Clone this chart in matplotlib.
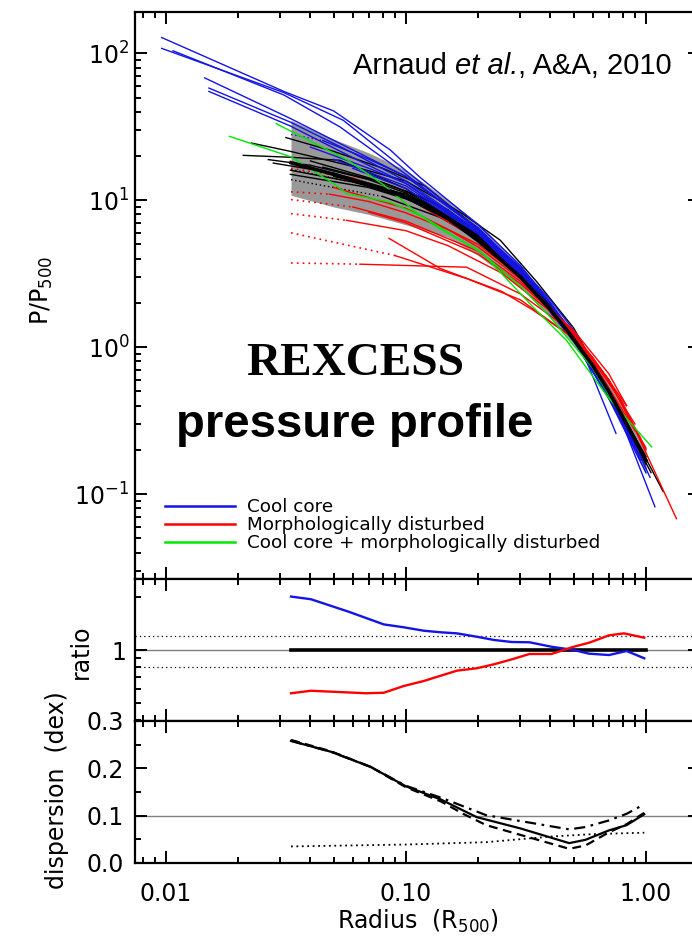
import numpy as np
import matplotlib
matplotlib.use("Agg")
import matplotlib.pyplot as plt
from matplotlib.ticker import LogLocator, NullFormatter, MultipleLocator, FixedLocator, FixedFormatter

# ---------------- data ----------------
# Cool-core profiles (blue): radius in R500, P/P500
cc_r = [
    [0.0096, 0.031, 0.05, 0.086, 0.114, 0.2, 0.3, 0.4, 0.5, 0.6, 0.8, 1.04],
    [0.0096, 0.031, 0.0548, 0.0885, 0.173, 0.3, 0.4, 0.5, 0.6, 0.8, 1.09],
    [0.0107, 0.031, 0.053, 0.1, 0.2, 0.3, 0.4, 0.55, 0.75],
    [0.0145, 0.033, 0.06, 0.1, 0.2, 0.3, 0.4, 0.5, 0.7, 0.95],
    [0.0151, 0.033, 0.06, 0.1, 0.2, 0.3, 0.4, 0.5, 0.7, 0.95],
    [0.0151, 0.033, 0.06, 0.1, 0.2, 0.3, 0.5, 0.7, 1.0],
    [0.045, 0.07, 0.1, 0.2, 0.3, 0.5, 0.7, 0.9],
    [0.04, 0.07, 0.1, 0.2, 0.3, 0.5, 0.7, 0.95],
    [0.05, 0.1, 0.2, 0.3, 0.5, 0.8, 1.0],
    [0.06, 0.1, 0.2, 0.3, 0.5, 0.7, 0.85],
]
cc_p = [
    [128, 55, 40.5, 22, 14.4, 6.8, 3.6, 2.0, 1.2, 0.75, 0.33, 0.13],
    [108, 54, 35, 18.7, 7.7, 3.5, 2.09, 1.3, 0.8, 0.3, 0.082],
    [104, 52, 31.6, 15, 6.3, 3.2, 1.8, 0.9, 0.259],
    [68, 36, 22, 14.5, 6.5, 3.4, 2.0, 1.2, 0.48, 0.18],
    [58, 34, 21, 13.5, 6.2, 3.3, 1.95, 1.15, 0.46, 0.17],
    [55, 32, 19.5, 13, 6.0, 3.2, 1.12, 0.45, 0.14],
    [25.5, 19, 14.5, 6.4, 3.3, 1.15, 0.46, 0.21],
    [23, 16.5, 13, 6.2, 3.2, 1.12, 0.45, 0.18],
    [19, 12.5, 6.0, 3.1, 1.1, 0.33, 0.15],
    [16.5, 12, 5.9, 3.1, 1.1, 0.47, 0.27],
]
cc_dot_r = [[0.0332, 0.045]]
cc_dot_p = [[28, 25.5]]

# Morphologically disturbed profiles (red)
dist_r = [
    [0.048, 0.07, 0.1, 0.15, 0.2, 0.3, 0.4, 0.5, 0.6, 0.83],
    [0.06, 0.1, 0.2, 0.3, 0.5, 0.7, 1.0],
    [0.0565, 0.1, 0.15, 0.25, 0.4, 0.6, 0.9],
    [0.09, 0.179, 0.3, 0.5, 0.7, 1.0],
    [0.0643, 0.179, 0.3, 0.5, 0.8, 1.34],
    [0.06, 0.1, 0.2, 0.3, 0.4, 0.6, 0.9],
    [0.05, 0.1, 0.2, 0.3, 0.5, 0.7, 0.85],
    [0.07, 0.1, 0.2, 0.3, 0.5, 0.7, 0.83],
    [0.085, 0.139, 0.25, 0.338, 0.5, 0.7, 0.95],
]
dist_p = [
    [11.0, 9.8, 8.2, 6.3, 4.8, 2.9, 1.8, 1.2, 0.85, 0.40],
    [9.0, 7.2, 4.5, 2.8, 1.25, 0.6, 0.205],
    [7.3, 6.2, 4.9, 3.2, 1.75, 0.85, 0.3],
    [4.2, 2.93, 2.1, 1.15, 0.6, 0.2],
    [3.67, 3.5, 2.3, 1.25, 0.42, 0.068],
    [14.2, 10.5, 5.4, 3.0, 1.85, 0.8, 0.27],
    [12.2, 8.8, 5.0, 3.0, 1.25, 0.6, 0.33],
    [8.3, 7.0, 4.3, 2.7, 1.3, 0.66, 0.40],
    [5.5, 3.43, 2.4, 1.79, 1.15, 0.6, 0.24],
]
dist_dot_r = [
    [0.0332, 0.048], [0.0332, 0.06], [0.0332, 0.0565],
    [0.0332, 0.09], [0.0332, 0.0643], [0.0332, 0.06],
]
dist_dot_p = [
    [11.4, 11.0], [10.1, 9.0], [8.1, 7.3],
    [6.0, 4.2], [3.74, 3.67], [16.5, 14.2],
]

# Cool core + disturbed (green)
ccd_r = [
    [0.0288, 0.0446, 0.0573, 0.0802, 0.111, 0.134, 0.2, 0.3, 0.398, 0.6, 0.8],
    [0.0184, 0.0333, 0.0498, 0.0566, 0.0858, 0.118, 0.21, 0.338, 0.467, 0.7, 1.055],
]
ccd_p = [
    [33.2, 23, 18.7, 12.8, 8.2, 6.6, 4.6, 2.6, 1.61, 0.72, 0.33],
    [27.2, 19.7, 13, 11.1, 9.7, 7.7, 4.3, 1.88, 1.11, 0.45, 0.21],
]

# Other clusters (black)
oth_r = [
    [0.021, 0.033, 0.053, 0.1, 0.2, 0.3, 0.5, 0.7, 1.0],
    [0.0227, 0.033, 0.06, 0.1, 0.17, 0.247, 0.35, 0.5, 0.7, 0.95],
    [0.0316, 0.05, 0.08, 0.12, 0.2, 0.3, 0.45, 0.65, 0.9],
    [0.0267, 0.04, 0.07, 0.1, 0.2, 0.3, 0.5, 0.8, 1.18],
    [0.028, 0.05, 0.08, 0.12, 0.2, 0.4, 0.6, 0.9],
    [0.033, 0.06, 0.1, 0.2, 0.3, 0.5, 0.7, 1.0],
    [0.033, 0.07, 0.1, 0.15, 0.25, 0.4, 0.6, 0.85],
    [0.04, 0.07, 0.1, 0.2, 0.3, 0.5, 0.75, 1.05],
    [0.045, 0.08, 0.12, 0.2, 0.3, 0.45, 0.65, 0.9],
    [0.05, 0.08, 0.13, 0.22, 0.35, 0.55, 0.8, 1.0],
    [0.06, 0.1, 0.18, 0.3, 0.45, 0.65, 0.9],
    [0.07, 0.12, 0.2, 0.35, 0.5, 0.75, 1.0],
    [0.08, 0.15, 0.25, 0.4, 0.6, 0.9],
    [0.1, 0.15, 0.3, 0.5, 0.7, 1.0],
]
oth_p = [
    [20.2, 19.6, 18.7, 12.0, 5.6, 3.1, 1.15, 0.48, 0.17],
    [24.5, 21.5, 17, 13.5, 8.2, 5.35, 2.8, 1.35, 0.5, 0.19],
    [26.7, 21.5, 16.5, 12.5, 6.4, 3.4, 1.5, 0.62, 0.24],
    [18.9, 17.3, 13.8, 11.2, 5.7, 3.1, 1.15, 0.35, 0.104],
    [17.9, 15.3, 12.3, 9.6, 5.8, 1.8, 0.73, 0.22],
    [16, 13.3, 10.5, 5.4, 3.0, 1.15, 0.48, 0.16],
    [15, 12.2, 10.2, 7.7, 4.2, 1.85, 0.75, 0.28],
    [18.5, 14.2, 11.5, 5.8, 3.2, 1.2, 0.4, 0.14],
    [16.8, 13.2, 10.3, 6.0, 3.3, 1.5, 0.6, 0.23],
    [14.5, 12.2, 9.0, 5.2, 2.5, 0.95, 0.33, 0.17],
    [13.5, 11.0, 6.8, 3.2, 1.5, 0.62, 0.23],
    [12.6, 9.5, 5.6, 2.5, 1.2, 0.42, 0.165],
    [10.6, 7.3, 4.3, 1.85, 0.75, 0.24],
    [11.5, 8.6, 3.4, 1.25, 0.5, 0.18],
]
oth_dot_r = [[0.0332, 0.07], [0.0332, 0.08]]
oth_dot_p = [[16.2, 12.6], [13.8, 10.6]]

# Mean profile and dispersion envelope
mean_r = [0.0332, 0.05, 0.07, 0.1, 0.15, 0.2, 0.25, 0.3, 0.4, 0.47, 0.6, 0.7, 0.85, 1.0]
mean_p = [18, 15, 12.8, 10.5, 7.5, 5.3, 3.9, 3.0, 1.8, 1.3, 0.75, 0.5, 0.28, 0.17]
band_r = [0.0332, 0.05, 0.07, 0.1, 0.15, 0.2, 0.3, 0.4, 0.5, 0.6, 0.7, 0.85, 1.0]
band_hi = [35, 26, 21, 16, 10.0, 7.0, 3.6, 2.05, 1.25, 0.83, 0.57, 0.33, 0.21]
band_lo = [10.8, 9.0, 8.0, 6.8, 5.6, 4.2, 2.55, 1.6, 1.05, 0.67, 0.43, 0.23, 0.135]

# Ratio panel
ratio_cc_r = [0.0332, 0.0402, 0.0577, 0.0809, 0.098, 0.1186, 0.140, 0.163, 0.197, 0.233,
              0.276, 0.327, 0.404, 0.500, 0.579, 0.702, 0.831, 0.984]
ratio_cc = [2.02, 1.95, 1.655, 1.40, 1.348, 1.289, 1.262, 1.245, 1.191, 1.141,
            1.111, 1.107, 1.044, 1.0, 0.953, 0.936, 0.987, 0.897]
ratio_dist_r = [0.0332, 0.0402, 0.0684, 0.0809, 0.098, 0.1186, 0.163, 0.197, 0.233,
                0.276, 0.327, 0.404, 0.500, 0.579, 0.702, 0.81, 0.984]
ratio_dist = [0.566, 0.585, 0.566, 0.570, 0.623, 0.665, 0.762, 0.786, 0.829,
              0.884, 0.949, 0.949, 1.044, 1.10, 1.213, 1.245, 1.176]
ratio_ref_r = [0.0332, 1.0]
ratio_ref = [1.0, 1.0]

# Dispersion panel
disp_r = [0.0332, 0.0487, 0.0713, 0.1, 0.14, 0.197, 0.3, 0.479, 0.56, 0.702, 0.831, 0.984]
disp_tot = [0.258, 0.235, 0.203, 0.162, 0.134, 0.097, 0.073, 0.042, 0.049, 0.069, 0.080, 0.103]
disp2_r = [0.0332, 0.0487, 0.0713, 0.1, 0.14, 0.173, 0.216, 0.479, 0.56, 0.702, 0.831, 0.984]
disp2 = [0.260, 0.236, 0.203, 0.160, 0.130, 0.104, 0.080, 0.030, 0.037, 0.065, 0.082, 0.106]
disp3_r = [0.0332, 0.0487, 0.0713, 0.1, 0.14, 0.216, 0.479, 0.56, 0.702, 0.831, 0.984]
disp3 = [0.258, 0.235, 0.203, 0.163, 0.138, 0.101, 0.071, 0.076, 0.090, 0.104, 0.124]
disp4_r = [0.0332, 0.1, 0.216, 0.404, 0.6, 0.984]
disp4 = [0.035, 0.039, 0.044, 0.056, 0.061, 0.064]

x_ticks = [0.01, 0.1, 1.0]
x_ticklabels = ["0.01", "0.10", "1.00"]
p_ticks = [0.1, 1, 10, 100]
p_ticklabels = ["$10^{-1}$", "$10^{0}$", "$10^{1}$", "$10^{2}$"]
disp_ticks = [0.0, 0.1, 0.2, 0.3]
disp_ticklabels = ["0.0", "0.1", "0.2", "0.3"]
legend_labels = ["Cool core", "Morphologically disturbed", "Cool core + morphologically disturbed"]

C_CC, C_DIST, C_CCD, C_BAND = "#1414e6", "#ff0000", "#00e600", "#999999"

# ---------------- figure ----------------
W, H = 692, 939
fig = plt.figure(figsize=(W / 100, H / 100), dpi=100)
L, R = 135, 700
ax1 = fig.add_axes([L / W, 1 - 579 / H, (R - L) / W, 567 / H])
ax2 = fig.add_axes([L / W, 1 - 721 / H, (R - L) / W, 142 / H])
ax3 = fig.add_axes([L / W, 1 - 863 / H, (R - L) / W, 142 / H])

XLIM = (0.00743, 1.68)
for ax in (ax1, ax2, ax3):
    ax.set_xscale("log")
    ax.set_xlim(*XLIM)
    ax.xaxis.set_major_locator(FixedLocator(x_ticks))
    ax.xaxis.set_minor_locator(LogLocator(base=10, subs=np.arange(2, 10)))
    ax.xaxis.set_minor_formatter(NullFormatter())
    ax.tick_params(which="both", direction="in", top=True, right=True, width=1.4,
                   labelsize=17)
    ax.tick_params(which="major", length=8.6)
    ax.tick_params(which="minor", length=4.3)
    for s in ax.spines.values():
        s.set_linewidth(1.6)
    if ax is not ax3:
        ax.xaxis.set_major_formatter(NullFormatter())

# ---- top panel ----
ax1.set_yscale("log")
ax1.set_ylim(0.02642, 191)
ax1.fill_between(band_r, band_lo, band_hi, color=C_BAND, lw=0, zorder=1)
for r, p in zip(oth_r, oth_p):
    ax1.plot(r, p, color="black", lw=1.0, zorder=2)
for r, p in zip(oth_dot_r, oth_dot_p):
    ax1.plot(r, p, color="black", lw=1.0, ls=(0, (1, 2)), zorder=2)
for r, p in zip(cc_r, cc_p):
    ax1.plot(r, p, color=C_CC, lw=1.0, zorder=3)
for r, p in zip(cc_dot_r, cc_dot_p):
    ax1.plot(r, p, color=C_CC, lw=1.0, ls=(0, (1, 2)), zorder=3)
for r, p in zip(dist_r, dist_p):
    ax1.plot(r, p, color=C_DIST, lw=1.0, zorder=3)
for r, p in zip(dist_dot_r, dist_dot_p):
    ax1.plot(r, p, color=C_DIST, lw=1.2, ls=(0, (1, 2.5)), zorder=3)
for r, p in zip(ccd_r, ccd_p):
    ax1.plot(r, p, color=C_CCD, lw=1.0, zorder=3)
ax1.plot(mean_r, mean_p, color="black", lw=2.6, zorder=4)

ax1.yaxis.set_major_locator(FixedLocator(p_ticks))
ax1.yaxis.set_major_formatter(FixedFormatter(p_ticklabels))
ax1.yaxis.set_minor_locator(LogLocator(base=10, subs=np.arange(2, 10)))
ax1.yaxis.set_minor_formatter(NullFormatter())
ax1.tick_params(axis="y", which="major", pad=4)

handles = [plt.Line2D([], [], color=c, lw=1.8) for c in (C_CC, C_DIST, C_CCD)]
ax1.legend(handles, legend_labels, loc="upper left",
           bbox_to_anchor=((165 - L) / (R - L), (579 - 498) / 567),
           frameon=False, fontsize=13.2, handlelength=3.8, handletextpad=0.65,
           labelspacing=0.0, borderpad=0, borderaxespad=0)

# ---- ratio panel ----
ax2.set_yscale("log")
ax2.set_ylim(0.393, 2.545)
ax2.axhline(1.0, color="#808080", lw=1.0, zorder=1)
ax2.axhline(1.2, color="black", lw=0.9, ls=(0, (1, 2.5)), zorder=1)
ax2.axhline(0.8, color="black", lw=0.9, ls=(0, (1, 2.5)), zorder=1)
ax2.plot(ratio_ref_r, ratio_ref, color="black", lw=2.6, zorder=2)
ax2.plot(ratio_cc_r, ratio_cc, color=C_CC, lw=1.7, zorder=3)
ax2.plot(ratio_dist_r, ratio_dist, color=C_DIST, lw=1.7, zorder=3)
ax2.yaxis.set_major_locator(FixedLocator([1.0]))
ax2.yaxis.set_major_formatter(FixedFormatter(["1"]))
ax2.yaxis.set_minor_locator(LogLocator(base=10, subs=np.arange(2, 10)))
ax2.yaxis.set_minor_formatter(NullFormatter())
ax2.tick_params(axis="y", which="major", pad=6)

# ---- dispersion panel ----
ax3.set_ylim(0, 0.3)
ax3.axhline(0.1, color="#808080", lw=1.0, zorder=1)
ax3.plot(disp_r, disp_tot, color="black", lw=1.6, zorder=3)
ax3.plot(disp2_r, disp2, color="black", lw=1.6, ls=(0, (4, 2.5)), zorder=3)
ax3.plot(disp3_r, disp3, color="black", lw=1.6, ls=(0, (5, 2.5, 1.2, 2.5)), zorder=3)
ax3.plot(disp4_r, disp4, color="black", lw=1.3, ls=(0, (1, 2)), zorder=3)
ax3.yaxis.set_major_locator(FixedLocator(disp_ticks))
ax3.yaxis.set_major_formatter(FixedFormatter(disp_ticklabels))
ax3.yaxis.set_minor_locator(MultipleLocator(0.05))
ax3.tick_params(axis="y", which="major", pad=8)
ax3.set_xticklabels(x_ticklabels)
ax3.tick_params(axis="x", which="major", pad=14)

# ---- labels and annotations ----
fig.text(42 / W, 1 - 290 / H, "P/P$_{500}$", rotation=90, ha="center", va="center", fontsize=17)
fig.text(81 / W, 1 - 652 / H, "ratio", rotation=90, ha="center", va="center", fontsize=17)
fig.text(57 / W, 1 - 790 / H, "dispersion  (dex)", rotation=90, ha="center", va="center", fontsize=17)
fig.text(418 / W, 1 - 921 / H, "Radius  (R$_{500}$)", ha="center", va="center", fontsize=17)

t1 = fig.text(353 / W, 1 - 80 / H, "Arnaud ", ha="left", va="bottom",
              fontsize=21, family="Liberation Sans")
t2 = ax1.annotate("et al.", xy=(1, 0), xycoords=t1, ha="left", va="bottom",
                  fontsize=21, family="Liberation Sans", style="italic")
ax1.annotate(", A&A, 2010", xy=(1, 0), xycoords=t2, ha="left", va="bottom",
             fontsize=21, family="Liberation Sans")

fig.text(355 / W, 1 - 375 / H, "REXCESS", ha="center", va="baseline",
         fontsize=34, family="Liberation Serif", weight="bold")
fig.text(355 / W, 1 - 437 / H, "pressure profile", ha="center", va="baseline",
         fontsize=34, family="Liberation Sans", weight="bold")

fig.savefig("out.png", dpi=100)
